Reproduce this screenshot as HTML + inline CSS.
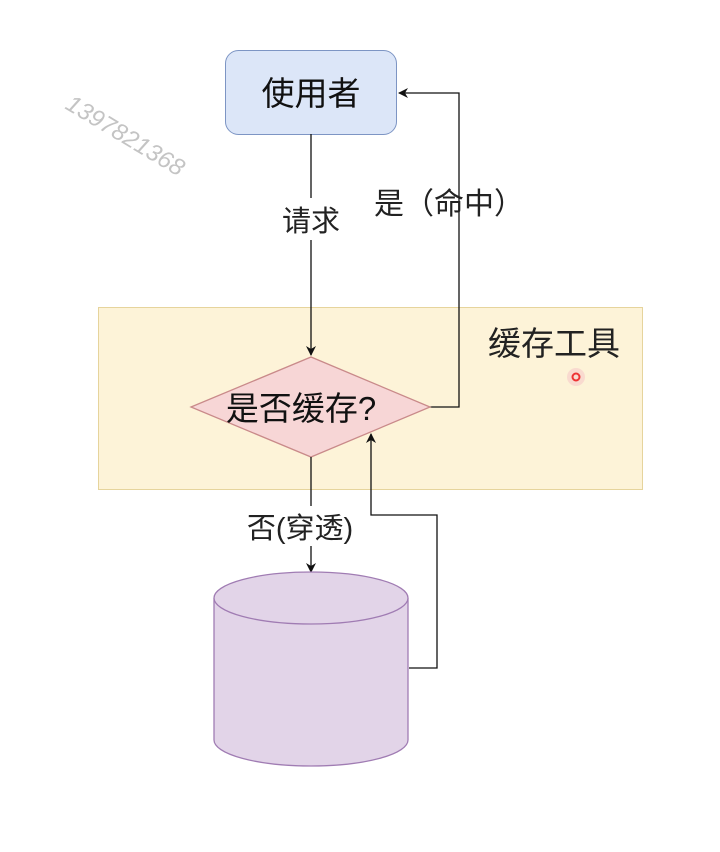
<!DOCTYPE html>
<html><head><meta charset="utf-8"><style>body{margin:0;background:#fff}svg{display:block}text{font-family:"Liberation Sans","Noto Sans CJK SC",sans-serif}</style></head><body>
<svg width="720" height="852" viewBox="0 0 720 852">
<defs><marker id="a" markerWidth="10" markerHeight="10" refX="9" refY="5" orient="auto" markerUnits="userSpaceOnUse"><path d="M0,0 L10,5 L0,10 L3,5z" fill="#111"/></marker></defs>
<rect x="98.5" y="307.5" width="544" height="182" fill="#fdf3d8" stroke="#e6d49c"/>
<rect x="225.5" y="50.5" width="171" height="84" rx="13" fill="#dce6f8" stroke="#7d95c4"/>
<text x="311" y="105" font-size="33" text-anchor="middle" fill="#111">使用者</text>
<line x1="311" y1="134" x2="311" y2="355" stroke="#111" stroke-width="1.3" marker-end="url(#a)"/>
<rect x="276" y="198" width="70" height="42" fill="#fff"/>
<text x="311" y="231" font-size="29" text-anchor="middle" fill="#222">请求</text>
<polyline points="430,407 459,407 459,93 399,93" fill="none" stroke="#111" stroke-width="1.3" marker-end="url(#a)"/>
<text x="449" y="214" font-size="30" text-anchor="middle" fill="#222">是（命中）</text>
<polygon points="191,407 311,357 430,407 311,457" fill="#f7d6d6" stroke="#c98a8a" stroke-width="1.3"/>
<text x="301" y="420" font-size="33" text-anchor="middle" fill="#111">是否缓存?</text>
<text x="554" y="355" font-size="33" text-anchor="middle" fill="#222">缓存工具</text>
<circle cx="576" cy="377" r="9" fill="#f6c9c9" opacity="0.6"/>
<circle cx="576" cy="377" r="3.5" fill="none" stroke="#e33" stroke-width="2"/>
<line x1="311" y1="457" x2="311" y2="572" stroke="#111" stroke-width="1.3" marker-end="url(#a)"/>
<rect x="236" y="506" width="132" height="40" fill="#fff"/>
<text x="300" y="538" font-size="29" text-anchor="middle" fill="#222">否(穿透)</text>
<polyline points="409,668 437,668 437,515 371,515 371,434" fill="none" stroke="#111" stroke-width="1.3" marker-end="url(#a)"/>
<path d="M214,598 L214,740 A97,26 0 0 0 408,740 L408,598" fill="#e2d4e8" stroke="#a07cb3" stroke-width="1.3"/>
<ellipse cx="311" cy="598" rx="97" ry="26" fill="#e2d4e8" stroke="#a07cb3" stroke-width="1.3"/>
<text x="64" y="108" font-size="24" font-style="italic" fill="#c4c4c4" transform="rotate(31 64 108)">1397821368</text>
</svg>
</body></html>
